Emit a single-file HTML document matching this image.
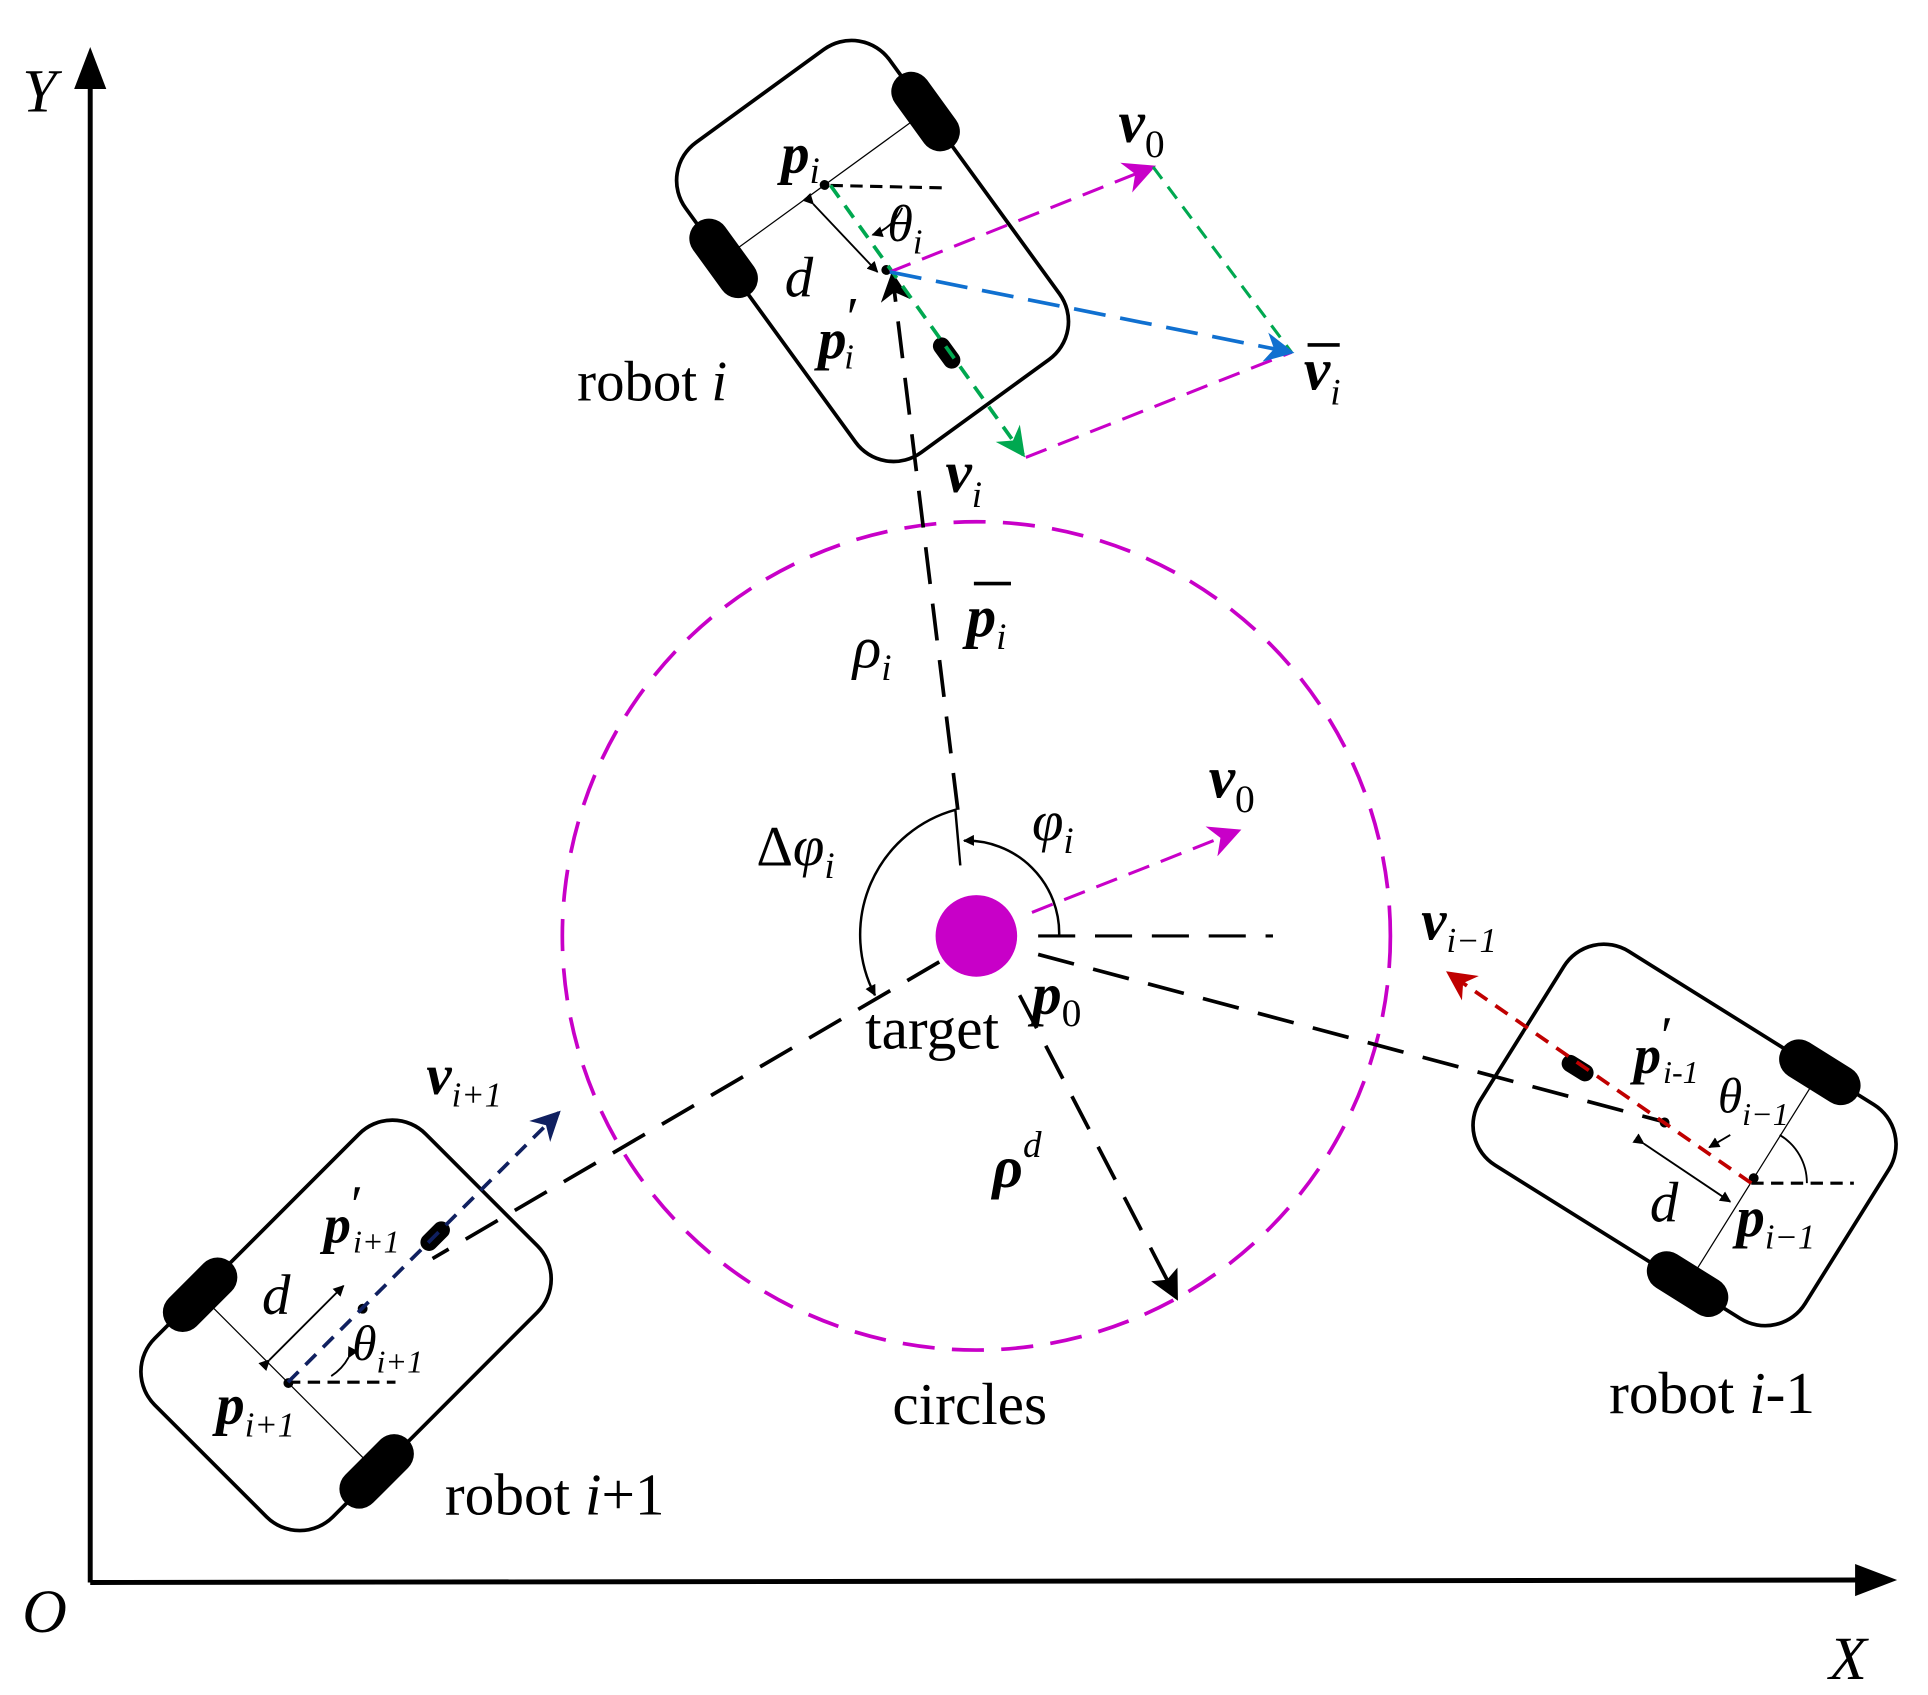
<!DOCTYPE html>
<html><head><meta charset="utf-8"><style>
html,body{margin:0;padding:0;background:#fff}
svg{display:block}
text{font-family:"Liberation Serif",serif;fill:#000}
.b{font-weight:bold;font-style:italic}
.i{font-style:italic}
</style></head><body>
<svg width="1928" height="1695" viewBox="0 0 1560 1371" preserveAspectRatio="none" xmlns="http://www.w3.org/2000/svg">
<defs>
<marker id="ak" viewBox="0 0 10 10" refX="9" refY="5" markerWidth="9" markerHeight="9" orient="auto" markerUnits="userSpaceOnUse"><path d="M0,0L10,5L0,10z" fill="#000"/></marker>
<marker id="big" viewBox="0 0 10 10" refX="9" refY="5" markerWidth="30" markerHeight="24" orient="auto" markerUnits="userSpaceOnUse"><path d="M0,0L10,5L0,10L3,5z" fill="#000"/></marker>
<marker id="am" viewBox="0 0 10 10" refX="9" refY="5" markerWidth="30" markerHeight="26" orient="auto" markerUnits="userSpaceOnUse"><path d="M0,0L10,5L0,10L3,5z" fill="#c800c8"/></marker>
<marker id="ag" viewBox="0 0 10 10" refX="9" refY="5" markerWidth="28" markerHeight="24" orient="auto" markerUnits="userSpaceOnUse"><path d="M0,0L10,5L0,10L3,5z" fill="#00a850"/></marker>
<marker id="ab" viewBox="0 0 10 10" refX="9" refY="5" markerWidth="28" markerHeight="24" orient="auto" markerUnits="userSpaceOnUse"><path d="M0,0L10,5L0,10L3,5z" fill="#1070d0"/></marker>
<marker id="an" viewBox="0 0 10 10" refX="9" refY="5" markerWidth="28" markerHeight="24" orient="auto" markerUnits="userSpaceOnUse"><path d="M0,0L10,5L0,10L3,5z" fill="#102060"/></marker>
<marker id="ar" viewBox="0 0 10 10" refX="9" refY="5" markerWidth="28" markerHeight="24" orient="auto" markerUnits="userSpaceOnUse"><path d="M0,0L10,5L0,10L3,5z" fill="#c00000"/></marker>
<marker id="ax" viewBox="0 0 10 10" refX="9" refY="5" markerWidth="34" markerHeight="24" orient="auto" markerUnits="userSpaceOnUse"><path d="M0,0L10,5L0,10L2,5z" fill="#000"/></marker>
<g id="robot">
<rect x="-155" y="-102" width="310" height="204" rx="38" fill="#fff" stroke="#000" stroke-width="3"/>
<line x1="-66" y1="-105" x2="-66" y2="105" stroke="#000" stroke-width="1"/>
<rect x="-102" y="-117" width="72" height="32" rx="16" fill="#000"/>
<rect x="-102" y="85" width="72" height="32" rx="16" fill="#000"/>
<rect x="88" y="-7" width="28" height="14" rx="7" fill="#000"/>
<circle cx="-66" cy="0" r="4" fill="#000"/>
<circle cx="19" cy="0" r="4" fill="#000"/>
</g>
</defs>
<line x1="73" y1="1280" x2="73" y2="70" stroke="#000" stroke-width="4"/>
<path d="M73,38 L60,72 L86,72z" fill="#000"/>
<line x1="73" y1="1280" x2="1505" y2="1278" stroke="#000" stroke-width="4"/>
<path d="M1535,1278 L1501,1265 L1501,1291z" fill="#000"/>
<text x="18" y="90" class="i" font-size="50">Y</text>
<text x="18" y="1320" class="i" font-size="50">O</text>
<text x="1480" y="1358" class="i" font-size="50">X</text>
<circle cx="790" cy="757" r="335" fill="none" stroke="#c800c8" stroke-width="3" stroke-dasharray="26,14"/>
<use href="#robot" transform="translate(706,203) rotate(54)"/>
<use href="#robot" transform="translate(280,1072) rotate(-45)"/>
<use href="#robot" transform="translate(1363,918) rotate(212)"/>
<line x1="775" y1="655" x2="722" y2="222" stroke="#000" stroke-width="3" stroke-dasharray="30,16" marker-end="url(#big)"/>
<line x1="840" y1="757" x2="1030" y2="757" stroke="#000" stroke-width="2.5" stroke-dasharray="30,16"/>
<line x1="760" y1="778" x2="350" y2="1018" stroke="#000" stroke-width="3" stroke-dasharray="30,16"/>
<line x1="840" y1="772" x2="1345" y2="907" stroke="#000" stroke-width="3" stroke-dasharray="30,16"/>
<line x1="825" y1="805" x2="952" y2="1050" stroke="#000" stroke-width="3" stroke-dasharray="30,16" marker-end="url(#ax)"/>
<line x1="835" y1="738" x2="1002" y2="672" stroke="#c800c8" stroke-width="2.5" stroke-dasharray="18,10" marker-end="url(#am)"/>
<circle cx="790" cy="757" r="33" fill="#c800c8"/>
<path d="M777,700 L773,655 A105,105 0 0,0 708,805" fill="none" stroke="#000" stroke-width="2" marker-end="url(#ak)"/>
<path d="M857,757 A75,75 0 0,0 780,680" fill="none" stroke="#000" stroke-width="2" marker-end="url(#ak)"/>
<line x1="672" y1="150" x2="765" y2="152" stroke="#000" stroke-width="2.5" stroke-dasharray="10,6"/>
<path d="M730,168 A40,40 0 0,1 706,190" fill="none" stroke="#000" stroke-width="1.5" marker-end="url(#ak)"/>
<line x1="672" y1="150" x2="828" y2="368" stroke="#00a850" stroke-width="3" stroke-dasharray="12,8" marker-end="url(#ag)"/>
<line x1="720" y1="220" x2="933" y2="135" stroke="#c800c8" stroke-width="2.5" stroke-dasharray="18,10" marker-end="url(#am)"/>
<line x1="933" y1="135" x2="1045" y2="285" stroke="#00a850" stroke-width="2.5" stroke-dasharray="12,8"/>
<line x1="830" y1="370" x2="1045" y2="285" stroke="#c800c8" stroke-width="2.5" stroke-dasharray="18,10"/>
<line x1="720" y1="220" x2="1045" y2="285" stroke="#1070d0" stroke-width="3" stroke-dasharray="26,12" marker-end="url(#ab)"/>
<line x1="658" y1="165" x2="710" y2="220" stroke="#000" stroke-width="1.5" marker-start="url(#ak)" marker-end="url(#ak)"/>
<line x1="233" y1="1118" x2="320" y2="1118" stroke="#000" stroke-width="2.5" stroke-dasharray="10,6"/>
<path d="M282,1098 A40,40 0 0,1 268,1113" fill="none" stroke="#000" stroke-width="1.5" marker-start="url(#ak)"/>
<line x1="233" y1="1118" x2="452" y2="900" stroke="#102060" stroke-width="3" stroke-dasharray="12,8" marker-end="url(#an)"/>
<line x1="218" y1="1100" x2="278" y2="1040" stroke="#000" stroke-width="1.5" marker-start="url(#ak)" marker-end="url(#ak)"/>
<line x1="1417" y1="957" x2="1500" y2="957" stroke="#000" stroke-width="2.5" stroke-dasharray="10,6"/>
<path d="M1462,957 A45,45 0 0,0 1440,918" fill="none" stroke="#000" stroke-width="1.5"/>
<path d="M1400,918 L1383,928" stroke="#000" stroke-width="1.5" marker-end="url(#ak)"/>
<line x1="1417" y1="957" x2="1172" y2="787" stroke="#c00000" stroke-width="3" stroke-dasharray="12,8" marker-end="url(#ar)"/>
<line x1="1330" y1="925" x2="1400" y2="972" stroke="#000" stroke-width="1.5" marker-start="url(#ak)" marker-end="url(#ak)"/>
<text x="632" y="140" class="b" font-size="46">p<tspan font-size="30" class="i" font-weight="normal" dy="8">i</tspan></text>
<text x="718" y="195" class="i" font-size="42">θ<tspan font-size="28" dy="10">i</tspan></text>
<text x="635" y="240" class="i" font-size="46">d</text>
<text x="662" y="290" class="b" font-size="46">p<tspan font-weight="normal" font-style="normal" dy="-18">′</tspan><tspan font-size="28" font-weight="normal" dx="-12" dy="26">i</tspan></text>
<text x="467" y="324" font-size="46">robot <tspan class="i">i</tspan></text>
<text x="905" y="115" class="b" font-size="48">v<tspan font-size="32" font-weight="normal" font-style="normal" dy="12">0</tspan></text>
<text x="1055" y="315" class="b" font-size="48">v<tspan font-size="30" font-weight="normal" dy="12">i</tspan></text>
<line x1="1058" y1="279" x2="1084" y2="279" stroke="#000" stroke-width="3"/>
<text x="765" y="398" class="b" font-size="48">v<tspan font-size="30" font-weight="normal" dy="12">i</tspan></text>
<text x="690" y="540" class="i" font-size="48">ρ<tspan font-size="30" dy="10">i</tspan></text>
<text x="782" y="515" class="b" font-size="48">p<tspan font-size="30" font-weight="normal" dy="10">i</tspan></text>
<line x1="788" y1="472" x2="818" y2="472" stroke="#000" stroke-width="3"/>
<text x="978" y="645" class="b" font-size="48">v<tspan font-size="32" font-weight="normal" font-style="normal" dy="12">0</tspan></text>
<text x="835" y="680" class="i" font-size="46">φ<tspan font-size="30" dy="10">i</tspan></text>
<text x="612" y="700" font-size="46">Δ<tspan class="i">φ</tspan><tspan font-size="30" class="i" dy="10">i</tspan></text>
<text x="700" y="848" font-size="48">target</text>
<text x="835" y="820" class="b" font-size="48">p<tspan font-size="32" font-weight="normal" font-style="normal" dy="10">0</tspan></text>
<text x="803" y="960" class="b" font-size="48">ρ<tspan font-size="30" font-weight="normal" dy="-24">d</tspan></text>
<text x="722" y="1152" font-size="48">circles</text>
<text x="1150" y="760" class="b" font-size="46">v<tspan font-size="28" font-weight="normal" dy="10">i−1</tspan></text>
<text x="1322" y="868" class="b" font-size="44">p<tspan font-weight="normal" font-style="normal" dy="-16">′</tspan><tspan font-size="26" font-weight="normal" dx="-8" dy="24">i-1</tspan></text>
<text x="1390" y="900" class="i" font-size="40">θ<tspan font-size="26" dy="10">i−1</tspan></text>
<text x="1335" y="988" class="i" font-size="46">d</text>
<text x="1405" y="1000" class="b" font-size="46">p<tspan font-size="28" font-weight="normal" dy="10">i−1</tspan></text>
<text x="1302" y="1143" font-size="48">robot <tspan class="i">i</tspan>-1</text>
<text x="345" y="885" class="b" font-size="46">v<tspan font-size="28" font-weight="normal" dy="10">i+1</tspan></text>
<text x="262" y="1005" class="b" font-size="44">p<tspan font-weight="normal" font-style="normal" dy="-16">′</tspan><tspan font-size="26" font-weight="normal" dx="-8" dy="24">i+1</tspan></text>
<text x="212" y="1063" class="i" font-size="46">d</text>
<text x="285" y="1100" class="i" font-size="40">θ<tspan font-size="26" dy="10">i+1</tspan></text>
<text x="175" y="1152" class="b" font-size="46">p<tspan font-size="28" font-weight="normal" dy="10">i+1</tspan></text>
<text x="360" y="1225" font-size="48">robot <tspan class="i">i</tspan>+1</text>
</svg>
</body></html>
